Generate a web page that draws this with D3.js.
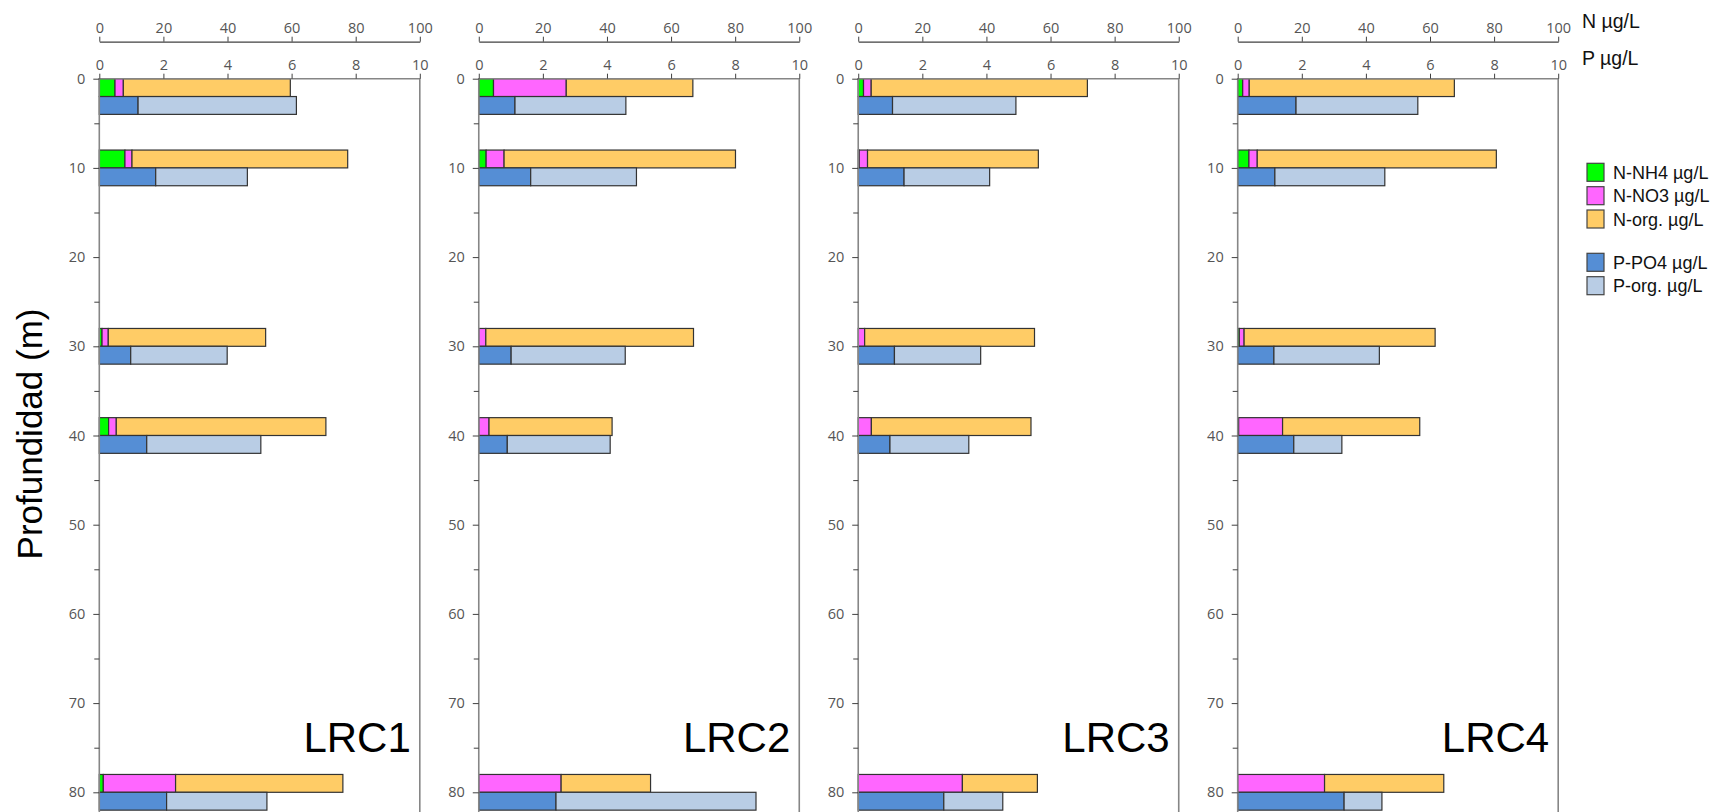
<!DOCTYPE html>
<html>
<head>
<meta charset="utf-8">
<script src="https://cdn.jsdelivr.net/npm/d3@7"></script>
<style>
  html, body { margin: 0; padding: 0; background: #fff; }
  svg { display: block; }
</style>
</head>
<body>
<svg id="chart" width="1719" height="812"></svg>
<script>
// Sampling stations and sample depths (m)
const stations = ["LRC1", "LRC2", "LRC3", "LRC4"];
const depths = [2, 10, 30, 40, 80];

// Nitrogen fractions (µg/L), one array per station, in depth order
const nNH4 = {
  LRC1: [4.9, 8.0, 0.85, 2.9, 1.25],
  LRC2: [4.6, 2.3, 0, 0, 0],
  LRC3: [1.65, 0.3, 0, 0, 0],
  LRC4: [1.56, 3.5, 0.5, 0.3, 0]
};
const nNO3 = {
  LRC1: [2.6, 2.2, 1.95, 2.4, 22.55],
  LRC2: [22.7, 5.6, 2.2, 3.2, 25.7],
  LRC3: [2.4, 2.6, 2.0, 4.1, 32.5],
  LRC4: [2.04, 2.6, 1.5, 13.7, 27.1]
};
const nOrg = {
  LRC1: [52.1, 67.3, 49.1, 65.4, 52.2],
  LRC2: [39.5, 72.2, 64.8, 38.4, 27.9],
  LRC3: [67.45, 53.3, 53.0, 49.8, 23.4],
  LRC4: [64.0, 74.6, 59.6, 42.8, 37.2]
};

// Phosphorus fractions (µg/L)
const pPO4 = {
  LRC1: [1.21, 1.76, 0.98, 1.48, 2.10],
  LRC2: [1.13, 1.62, 1.01, 0.89, 2.41],
  LRC3: [1.07, 1.43, 1.13, 0.99, 2.67],
  LRC4: [1.82, 1.16, 1.13, 1.75, 3.32]
};
const pOrg = {
  LRC1: [4.94, 2.86, 3.01, 3.56, 3.13],
  LRC2: [3.46, 3.30, 3.56, 3.21, 6.24],
  LRC3: [3.85, 2.67, 2.69, 2.46, 1.84],
  LRC4: [3.80, 3.43, 3.29, 1.50, 1.18]
};

// Axis ticks
const nTicks = [0, 20, 40, 60, 80, 100];
const pTicks = [0, 2, 4, 6, 8, 10];
const depthTicks = [0, 10, 20, 30, 40, 50, 60, 70, 80];
const depthMinorTicks = [5, 15, 25, 35, 45, 55, 65, 75];

// Series definitions
const nSeries = [
  { key: "N-NH4 µg/L", data: nNH4, color: "#00ff00" },
  { key: "N-NO3 µg/L", data: nNO3, color: "#ff66ff" },
  { key: "N-org. µg/L", data: nOrg, color: "#ffcc66" }
];
const pSeries = [
  { key: "P-PO4 µg/L", data: pPO4, color: "#558ed5" },
  { key: "P-org. µg/L", data: pOrg, color: "#b9cde5" }
];

const svg = d3.select("#chart");
const FONT = "'Liberation Sans', Arial, sans-serif";
const TICK_FONT = "'Open Sans', 'Liberation Sans', sans-serif";
const frameColor = "#868686";
const textColor = "#555";

const panelW = 320.5;
const panelX = d3.scalePoint().domain(stations).range([99.3, 1237.7]);
const y = d3.scaleLinear().domain([0, 80]).range([78.7, 792.3]);
const barDepth = 2; // thickness of each bar in depth units
const nAxisY = 41.7;
const frameBottom = 840;

stations.forEach((st, si) => {
  const x0 = panelX(st);
  const g = svg.append("g");
  const xN = d3.scaleLinear().domain([0, 100]).range([x0, x0 + panelW]);
  const xP = d3.scaleLinear().domain([0, 10]).range([x0, x0 + panelW]);

  // Stacked nitrogen bars (above each sample depth)
  depths.forEach((d, di) => {
    let acc = 0;
    nSeries.forEach(s => {
      const v = s.data[st][di];
      if (v > 0) {
        g.append("rect")
          .attr("x", xN(acc))
          .attr("y", y(d - barDepth))
          .attr("width", xN(acc + v) - xN(acc))
          .attr("height", y(d) - y(d - barDepth))
          .attr("fill", s.color)
          .attr("stroke", "#333")
          .attr("stroke-width", 1.2);
      }
      acc += v;
    });
    // Stacked phosphorus bars (below each sample depth)
    let accP = 0;
    pSeries.forEach(s => {
      const v = s.data[st][di];
      if (v > 0) {
        g.append("rect")
          .attr("x", xP(accP))
          .attr("y", y(d))
          .attr("width", xP(accP + v) - xP(accP))
          .attr("height", y(d + barDepth) - y(d))
          .attr("fill", s.color)
          .attr("stroke", "#333")
          .attr("stroke-width", 1.2);
      }
      accP += v;
    });
  });

  // Plot frame: left, top, right
  g.append("path")
    .attr("d", `M${x0},${frameBottom}V${y(0)}H${x0 + panelW}V${frameBottom}`)
    .attr("fill", "none")
    .attr("stroke", frameColor)
    .attr("stroke-width", 1.6);

  // Phosphorus axis on the frame top
  const pAxis = d3.axisTop(xP).tickValues(pTicks).tickSize(5).tickPadding(4);
  const pa = g.append("g").attr("transform", `translate(0,${y(0)})`).call(pAxis);
  pa.select(".domain").remove();
  pa.selectAll(".tick line").attr("stroke", "#404040");
  pa.selectAll("text").attr("font-family", TICK_FONT).attr("font-size", 14.5).attr("fill", textColor);

  // Nitrogen axis above
  const nAxis = d3.axisTop(xN).tickValues(nTicks).tickSize(5).tickSizeOuter(0).tickPadding(4);
  const na = g.append("g").attr("transform", `translate(0,${nAxisY})`).call(nAxis);
  na.select(".domain").attr("stroke", "#404040").attr("stroke-width", 1.3);
  na.selectAll(".tick line").attr("stroke", "#404040");
  na.selectAll("text").attr("font-family", TICK_FONT).attr("font-size", 14.5).attr("fill", textColor);

  // Depth axis
  const dAxis = d3.axisLeft(y).tickValues(depthTicks).tickSize(6).tickPadding(8);
  const da = g.append("g").attr("transform", `translate(${x0},0)`).call(dAxis);
  da.select(".domain").remove();
  da.selectAll(".tick line").attr("stroke", "#404040");
  da.selectAll("text").attr("font-family", TICK_FONT).attr("font-size", 14.5).attr("fill", textColor);
  const dMinor = d3.axisLeft(y).tickValues(depthMinorTicks).tickSize(5).tickFormat("");
  const dm = g.append("g").attr("transform", `translate(${x0},0)`).call(dMinor);
  dm.select(".domain").remove();
  dm.selectAll(".tick line").attr("stroke", "#404040");

  // Station name
  g.append("text")
    .attr("x", x0 + panelW - 9)
    .attr("y", 752)
    .attr("text-anchor", "end")
    .attr("font-family", FONT)
    .attr("font-size", 42)
    .attr("fill", "#000")
    .text(st);
});

// Axis unit labels
svg.append("text").attr("x", 1582).attr("y", 27.5)
  .attr("font-family", FONT).attr("font-size", 19.5).attr("fill", "#111").text("N µg/L");
svg.append("text").attr("x", 1582).attr("y", 65)
  .attr("font-family", FONT).attr("font-size", 19.5).attr("fill", "#111").text("P µg/L");

// Depth axis title
svg.append("text")
  .attr("transform", "translate(42,434) rotate(-90)")
  .attr("text-anchor", "middle")
  .attr("font-family", FONT)
  .attr("font-size", 35)
  .attr("fill", "#000")
  .text("Profundidad (m)");

// Legend
const legendRows = [
  { s: nSeries[0], top: 163.3 },
  { s: nSeries[1], top: 186.7 },
  { s: nSeries[2], top: 210 },
  { s: pSeries[0], top: 253.3 },
  { s: pSeries[1], top: 276.7 }
];
const lg = svg.append("g");
legendRows.forEach(r => {
  lg.append("rect")
    .attr("x", 1587).attr("y", r.top)
    .attr("width", 17).attr("height", 18)
    .attr("fill", r.s.color)
    .attr("stroke", "#444").attr("stroke-width", 1.2);
  lg.append("text")
    .attr("x", 1613).attr("y", r.top + 15.5)
    .attr("font-family", FONT).attr("font-size", 18).attr("fill", "#111")
    .text(r.s.key);
});
</script>
</body>
</html>
